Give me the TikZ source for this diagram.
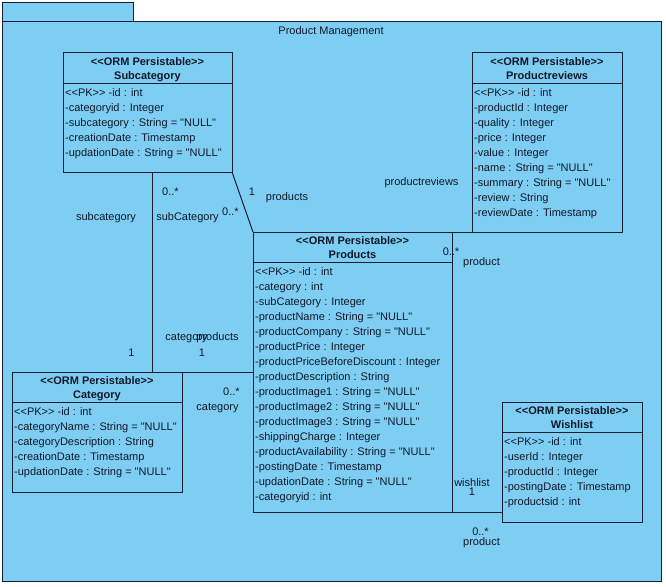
\documentclass[tikz,border=0pt]{standalone}
\usepackage{fontspec}
\setmainfont{Liberation Sans}[Ligatures=TeXOff]
\definecolor{bluefill}{RGB}{126,206,244}
\definecolor{linec}{RGB}{22,30,52}
\definecolor{txtc}{RGB}{18,24,40}
\begin{document}
\begin{tikzpicture}[x=1pt,y=-1pt,
  pkgbox/.style={draw=linec, fill=bluefill, line width=1pt, anchor=north west, inner sep=0, outer sep=0},
  cls/.style={draw=linec, fill=bluefill, line width=1pt, anchor=north west, inner sep=0, outer sep=0},
  conn/.style={draw=linec, line width=1pt},
  sep/.style={draw=linec, line width=1pt},
  hdr/.style={font=\bfseries\fontsize{11}{13}\selectfont, text=txtc, inner sep=0, anchor=base},
  attr/.style={font=\fontsize{11}{13}\selectfont, text=txtc, inner sep=0, anchor=base west},
  lbl/.style={font=\fontsize{11}{13}\selectfont, text=txtc, inner sep=0, anchor=base}]
\useasboundingbox (0,0) rectangle (666,586);
\fill[white] (0,0) rectangle (666,586);
% package
\node[pkgbox, minimum width=131pt, minimum height=19pt] (tab) at (2,3) {};
\node[pkgbox, minimum width=659pt, minimum height=559pt] (pkg) at (2,22) {};
\node[lbl] (pkgname) at (331,34.5) {Product Management};
% hidden multiplicity under Productreviews
\node[lbl] (revone) at (474.5,214) {1};
% classes
\node[cls, minimum width=169pt, minimum height=119pt] (sub) at (63,53) {};
\node[cls, minimum width=150pt, minimum height=179pt] (rev) at (472,53) {};
\node[cls, minimum width=199pt, minimum height=280pt] (prod) at (253,232) {};
\node[cls, minimum width=170pt, minimum height=120pt] (cat) at (12,372) {};
\node[cls, minimum width=140pt, minimum height=120pt] (wish) at (502,402) {};
% separators and headers
\foreach \b/\n in {sub/Subcategory, rev/Productreviews, prod/Products, cat/Category, wish/Wishlist}{
  \draw[sep] ([yshift=-30pt]\b.north west) -- ([yshift=-30pt]\b.north east);
  \node[hdr] (\b-st) at ([yshift=-12.5pt]\b.north) {<<ORM Persistable>>};
  \node[hdr] (\b-nm) at ([yshift=-26.5pt]\b.north) {\n};
}
% attributes
\foreach \t [count=\i from 0] in {{<<PK>> -id : int},{-categoryid : Integer},{-subcategory : String = "NULL"},{-creationDate : Timestamp},{-updationDate : String = "NULL"}}
  \node[attr] (sub-a\i) at ([xshift=2pt,yshift={-43.5-15*\i}]sub.north west) {\t};
\foreach \t [count=\i from 0] in {{<<PK>> -id : int},{-productId : Integer},{-quality : Integer},{-price : Integer},{-value : Integer},{-name : String = "NULL"},{-summary : String = "NULL"},{-review : String},{-reviewDate : Timestamp}}
  \node[attr] (rev-a\i) at ([xshift=2pt,yshift={-43.5-15*\i}]rev.north west) {\t};
\foreach \t [count=\i from 0] in {{<<PK>> -id : int},{-category : int},{-subCategory : Integer},{-productName : String = "NULL"},{-productCompany : String = "NULL"},{-productPrice : Integer},{-productPriceBeforeDiscount : Integer},{-productDescription : String},{-productImage1 : String = "NULL"},{-productImage2 : String = "NULL"},{-productImage3 : String = "NULL"},{-shippingCharge : Integer},{-productAvailability : String = "NULL"},{-postingDate : Timestamp},{-updationDate : String = "NULL"},{-categoryid : int}}
  \node[attr] (prod-a\i) at ([xshift=2pt,yshift={-43.5-15*\i}]prod.north west) {\t};
\foreach \t [count=\i from 0] in {{<<PK>> -id : int},{-categoryName : String = "NULL"},{-categoryDescription : String},{-creationDate : Timestamp},{-updationDate : String = "NULL"}}
  \node[attr] (cat-a\i) at ([xshift=2pt,yshift={-43.5-15*\i}]cat.north west) {\t};
\foreach \t [count=\i from 0] in {{<<PK>> -id : int},{-userId : Integer},{-productId : Integer},{-postingDate : Timestamp},{-productsid : int}}
  \node[attr] (wish-a\i) at ([xshift=2pt,yshift={-43.5-15*\i}]wish.north west) {\t};
% connectors
\draw[conn] ([xshift=89pt]sub.south west) -- ([xshift=89pt]sub.south west |- cat.north);
\draw[conn] (sub.south east) -- (prod.north west);
\draw[conn] (cat.north east) -- (cat.north east -| prod.west);
\draw[conn] (prod.north east) -- (rev.south west);
\draw[conn] (prod.south east) -- (prod.south east -| wish.west);
% connector labels
\node[lbl] (l1) at (106,220) {subcategory};
\node[lbl] (l2) at (170.5,195.5) {0..*};
\node[lbl] (l3) at (187.5,220) {subCategory};
\node[lbl] (l4) at (230.5,215) {0..*};
\node[lbl] (l5) at (252,195.5) {1};
\node[lbl] (l6) at (287,200) {products};
\node[lbl] (l7) at (186.5,340) {category};
\node[lbl] (l8) at (217.5,340) {products};
\node[lbl] (l9) at (131.5,356) {1};
\node[lbl] (l10) at (202,356) {1};
\node[lbl] (l11) at (231.5,395.5) {0..*};
\node[lbl] (l12) at (217.5,410.5) {category};
\node[lbl] (l13) at (421.5,185.5) {productreviews};
\node[lbl] (l14) at (451,255) {0..*};
\node[lbl] (l15) at (481.5,265.5) {product};
\node[lbl] (l16) at (472,486) {wishlist};
\node[lbl] (l17) at (472,495.5) {1};
\node[lbl] (l18) at (480.5,535) {0..*};
\node[lbl] (l19) at (481.5,545) {product};
\end{tikzpicture}
\end{document}
